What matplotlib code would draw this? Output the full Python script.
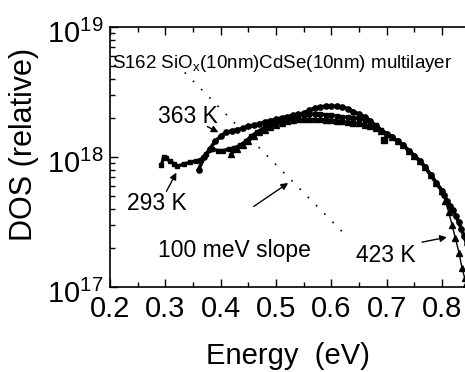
import matplotlib
matplotlib.use("Agg")
import matplotlib.pyplot as plt
import matplotlib.transforms as mtransforms
import numpy as np

plt.rcParams['font.family'] = ['Liberation Sans', 'DejaVu Sans']
plt.rcParams['mathtext.fontset'] = 'custom'
plt.rcParams['mathtext.rm'] = 'Liberation Sans'
plt.rcParams['mathtext.it'] = 'Liberation Sans:italic'
plt.rcParams['mathtext.bf'] = 'Liberation Sans:bold'

# ---- data (log10 of DOS) ----
E_293 = [0.293, 0.297, 0.302, 0.308, 0.315, 0.322, 0.333, 0.345, 0.355, 0.364,
         0.373, 0.385, 0.395, 0.405, 0.415, 0.425, 0.435, 0.445, 0.455, 0.465,
         0.48, 0.49, 0.50, 0.51, 0.52, 0.53, 0.54, 0.55, 0.56, 0.57, 0.58, 0.59,
         0.60, 0.61, 0.62, 0.63, 0.64, 0.65, 0.66, 0.67, 0.68, 0.69, 0.70, 0.71,
         0.72, 0.73, 0.74, 0.75, 0.76, 0.77, 0.78, 0.79, 0.80]
log_293 = [17.94, 18.00, 17.99, 17.97, 17.95, 17.93, 17.945, 17.96, 17.97, 17.98,
           18.02, 18.06, 18.05, 18.05, 18.06, 18.07, 18.09, 18.12, 18.16, 18.19,
           18.23, 18.25, 18.27, 18.285, 18.30, 18.31, 18.32, 18.325, 18.33, 18.33, 18.33, 18.325,
           18.32, 18.315, 18.31, 18.305, 18.30, 18.295, 18.285, 18.27, 18.245, 18.21, 18.18, 18.155,
           18.12, 18.09, 18.05, 18.01, 17.97, 17.92, 17.86, 17.80, 17.74]
E_293_extra = [0.696]
log_293_extra = [18.13]

E_363 = [0.360, 0.370, 0.380, 0.390, 0.400, 0.410, 0.420, 0.430, 0.440, 0.450,
         0.460, 0.470, 0.480, 0.490, 0.50, 0.51, 0.52, 0.53, 0.54, 0.55, 0.56,
         0.57, 0.58, 0.59, 0.60, 0.61, 0.62, 0.63, 0.64, 0.65, 0.66, 0.67, 0.68,
         0.69, 0.70, 0.71, 0.72, 0.73, 0.74, 0.75, 0.76, 0.77, 0.78, 0.79, 0.80,
         0.804, 0.810, 0.815, 0.820, 0.825, 0.830, 0.835, 0.840, 0.845]
log_363 = [17.90, 18.00, 18.06, 18.12, 18.16, 18.19, 18.20, 18.21, 18.22, 18.235,
           18.245, 18.255, 18.27, 18.28, 18.29, 18.30, 18.31, 18.32, 18.33, 18.335, 18.36,
           18.375, 18.385, 18.39, 18.39, 18.39, 18.385, 18.37, 18.35, 18.33, 18.31, 18.28, 18.24,
           18.20, 18.175, 18.155, 18.12, 18.09, 18.05, 18.01, 17.97, 17.92, 17.86, 17.80, 17.74,
           17.71, 17.66, 17.62, 17.59, 17.55, 17.50, 17.45, 17.39, 17.33]

E_423 = [0.418, 0.430, 0.440, 0.450, 0.460, 0.470, 0.480, 0.490, 0.50, 0.51, 0.52,
         0.53, 0.54, 0.55, 0.56, 0.57, 0.58, 0.59, 0.60, 0.61, 0.62, 0.63, 0.64,
         0.65, 0.66, 0.67, 0.68, 0.69, 0.70, 0.71, 0.72, 0.73, 0.74, 0.75, 0.76,
         0.77, 0.78, 0.79, 0.80, 0.806, 0.812, 0.818, 0.824, 0.831, 0.836, 0.841, 0.844]
log_423 = [18.02, 18.06, 18.09, 18.12, 18.16, 18.19, 18.21, 18.23, 18.25, 18.265, 18.28,
           18.285, 18.29, 18.29, 18.29, 18.29, 18.29, 18.288, 18.285, 18.28, 18.275, 18.27, 18.265,
           18.26, 18.25, 18.24, 18.22, 18.20, 18.18, 18.155, 18.12, 18.09, 18.05, 18.01, 17.97,
           17.92, 17.86, 17.80, 17.74, 17.66, 17.58, 17.48, 17.38, 17.26, 17.15, 17.07, 17.02]

slope_E = [0.335, 0.628]
slope_log = [18.65, 17.39]

xticks = [0.2, 0.3, 0.4, 0.5, 0.6, 0.7, 0.8]
xtick_labels = ['0.2', '0.3', '0.4', '0.5', '0.6', '0.7', '0.8']

def dos(v):
    return 10.0 ** np.asarray(v)

fig = plt.figure(figsize=(4.65, 3.72), dpi=100)
ax = fig.add_axes([110/465, (372-287)/372, 1.004 - 110/465, (287-27)/372])

ax.plot(E_293, dos(log_293), color='k', lw=2.4, marker='s', ms=3.4, mec='k', mfc='k')
ax.plot(E_293_extra, dos(log_293_extra), ls='none', color='k', marker='s', ms=3.8)
ax.plot(E_363, dos(log_363), color='k', lw=2.6, marker='o', ms=3.8, mec='k', mfc='k')
n_main = 39
ax.plot(E_423[:n_main], dos(log_423[:n_main]), color='k', lw=2.2, marker='^', ms=3.8,
        mec='k', mfc='k')
ax.plot(E_423[n_main - 1:], dos(log_423[n_main - 1:]), color='k', lw=1.0, marker='^',
        ms=4.2, mec='k', mfc='k')

ax.plot(slope_E, dos(slope_log), color='k', lw=1.2, ls=(0, (1, 6)))

ax.set_yscale('log')
ax.set_xlim(0.2, 0.845)
ax.set_ylim(1e17, 1e19)
ax.set_xticks(xticks)
ax.set_xticklabels(xtick_labels)
ax.set_xticks(np.arange(0.25, 0.85, 0.1), minor=True)

ax.tick_params(axis='both', which='both', direction='in', top=True, right=False)
ax.tick_params(axis='both', which='major', length=6, width=1, labelsize=21)
ax.tick_params(axis='x', which='major', pad=6)
ax.tick_params(axis='y', which='major', pad=5)
ax.tick_params(axis='both', which='minor', length=3.5, width=1)
ax.tick_params(axis='y', which='minor', labelleft=False)
for s in ax.spines.values():
    s.set_linewidth(1.2)

offset = mtransforms.ScaledTranslation(0, -4/100, fig.dpi_scale_trans)
for lab in ax.get_yticklabels():
    lab.set_transform(lab.get_transform() + offset)

ax.set_xlabel('Energy  (eV)', fontsize=21, va='center')
ax.xaxis.set_label_coords(0.5, -0.265)
ax.set_ylabel('DOS (relative)', fontsize=22, labelpad=4)
ax.yaxis.set_label_coords(-0.2, 0.55)

ax.text(0.204, 10**18.72, 'S162 SiO$_\\mathrm{x}$(10nm)CdSe(10nm) multilayer',
        fontsize=13.5, ha='left', va='center')

arrow = dict(arrowstyle='-|>', color='k', lw=1.0, mutation_scale=10, shrinkA=0, shrinkB=0)
ax.text(0.34, 10**18.31, '363 K', fontsize=16.5, ha='center', va='center')
ax.annotate('', xy=(0.396, 10**18.19), xytext=(0.376, 10**18.234), arrowprops=arrow)
ax.text(0.284, 10**17.64, '293 K', fontsize=16.5, ha='center', va='center')
ax.annotate('', xy=(0.32, 10**17.88), xytext=(0.302, 10**17.736), arrowprops=arrow)
ax.text(0.425, 10**17.28, '100 meV slope', fontsize=16.5, ha='center', va='center')
ax.annotate('', xy=(0.522, 10**17.80), xytext=(0.46, 10**17.62), arrowprops=arrow)
ax.text(0.698, 10**17.24, '423 K', fontsize=16.5, ha='center', va='center')
ax.annotate('', xy=(0.809, 10**17.383), xytext=(0.764, 10**17.345), arrowprops=arrow)

fig.savefig('out.png', dpi=100)
